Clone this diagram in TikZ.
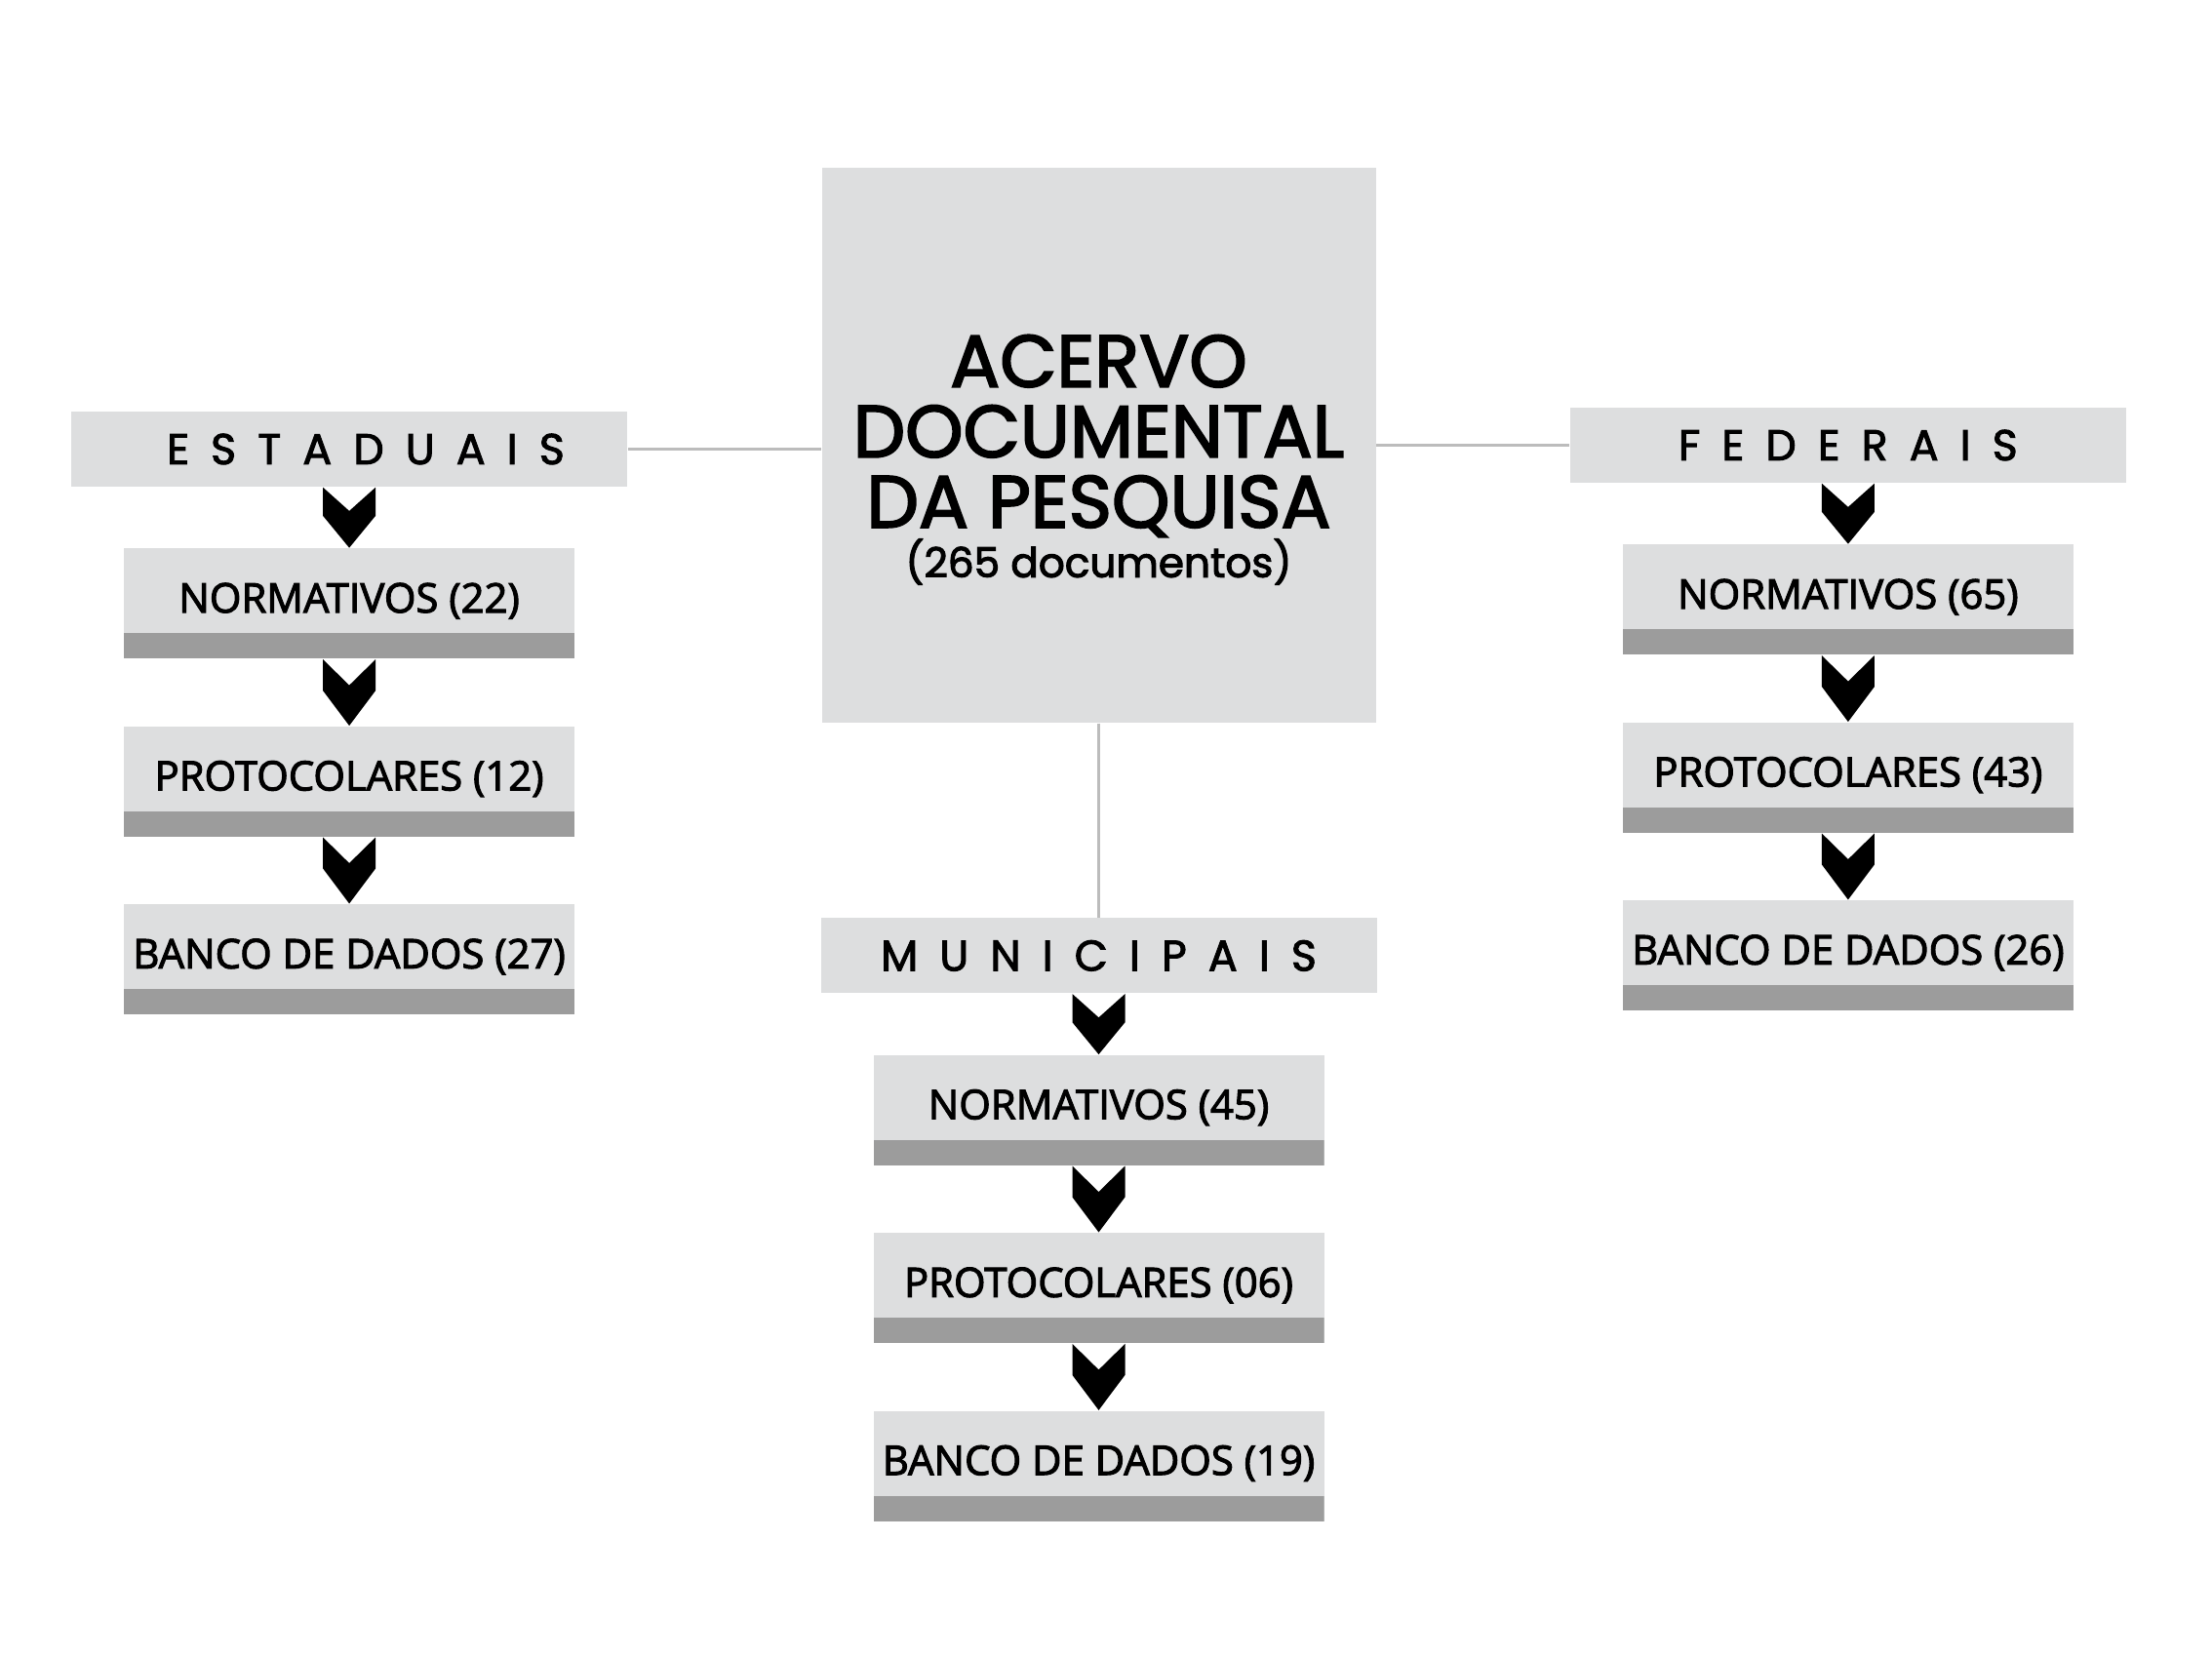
\documentclass[tikz,border=0pt]{standalone}
\usepackage{fontspec}
\setmainfont{Open Sans}
\newfontfamily\itemfont[FakeBold=2.5]{Open Sans}
\newfontfamily\titlefont[FakeBold=2.5]{Poppins}
\newfontfamily\headfont[LetterSpace=50, FakeBold=2.2]{Poppins}
\usetikzlibrary{positioning, calc}
\definecolor{boxgray}{RGB}{221,222,223}
\definecolor{stripgray}{RGB}{156,156,156}
\definecolor{linegray}{RGB}{188,188,188}
\tikzstyle{hub} = [rectangle, minimum width=5.68cm, minimum height=5.69cm, inner sep=0pt, fill=boxgray]
\tikzstyle{title} = [align=center, inner sep=0pt, font=\titlefont\fontsize{21.5}{20.5}\selectfont]
\tikzstyle{header} = [rectangle, minimum width=5.70cm, minimum height=0.77cm, inner sep=0pt, fill=boxgray, text height=8.8pt, text depth=0pt, font=\headfont\fontsize{12.6}{14}\selectfont]
\tikzstyle{item} = [rectangle, minimum width=4.62cm, minimum height=1.13cm, inner sep=0pt, fill=boxgray, text height=8.4pt, text depth=3.2pt, font=\itemfont\fontsize{11.9}{13}\selectfont, path picture={\fill[stripgray] (path picture bounding box.south west) rectangle ([yshift=0.26cm]path picture bounding box.south east);}]
\tikzstyle{link} = [draw=linegray, line width=0.8pt]
% chevron between two stacked boxes
\newcommand{\chev}[2]{\fill[black] ($(#1.south)+(-0.27,0)$) -- ($(#1.south)!0.47!(#2.north)+(-0.27,0)$) -- (#2.north) -- ($(#1.south)!0.47!(#2.north)+(0.27,0)$) -- ($(#1.south)+(0.27,0)$) -- ($(#1.south)!0.39!(#2.north)$) -- cycle;}

\begin{document}
\begin{tikzpicture}
    \useasboundingbox (0,0) rectangle (22.68,17);
    \node (acervo) [hub] at (11.265,12.435) {};
    \node (acervotxt) [title, yshift=-0.15cm] at (acervo) {ACERVO\\DOCUMENTAL\\DA PESQUISA\\[-6pt]{\fontsize{12}{14}\selectfont(265 documentos)}};
    % the three groups
    \node (est) [header, left=1.98cm of acervo, yshift=-0.04cm] {\hspace*{0.34cm}ESTADUAIS};
    \node (fed) [header, right=1.98cm of acervo] {FEDERAIS};
    \node (mun) [header, below=1.99cm of acervo] {MUNICIPAIS};
    \node (en) [item, below=0.62cm of est] {NORMATIVOS (22)};
    \node (ep) [item, below=0.68cm of en] {PROTOCOLARES (12)};
    \node (eb) [item, below=0.68cm of ep] {BANCO DE DADOS (27)};
    \node (fn) [item, below=0.62cm of fed] {NORMATIVOS (65)};
    \node (fp) [item, below=0.68cm of fn] {PROTOCOLARES (43)};
    \node (fb) [item, below=0.68cm of fp] {BANCO DE DADOS (26)};
    \node (mn) [item, below=0.62cm of mun] {NORMATIVOS (45)};
    \node (mp) [item, below=0.68cm of mn] {PROTOCOLARES (06)};
    \node (mb) [item, below=0.68cm of mp] {BANCO DE DADOS (19)};
    % links
    \draw [link] (est.east) -- (acervo.west |- est.east);
    \draw [link] (fed.west) -- (acervo.east |- fed.west);
    \draw [link] (acervo.south) -- (mun.north);
    \chev{est}{en} \chev{en}{ep} \chev{ep}{eb}
    \chev{fed}{fn} \chev{fn}{fp} \chev{fp}{fb}
    \chev{mun}{mn} \chev{mn}{mp} \chev{mp}{mb}
\end{tikzpicture}
\end{document}
